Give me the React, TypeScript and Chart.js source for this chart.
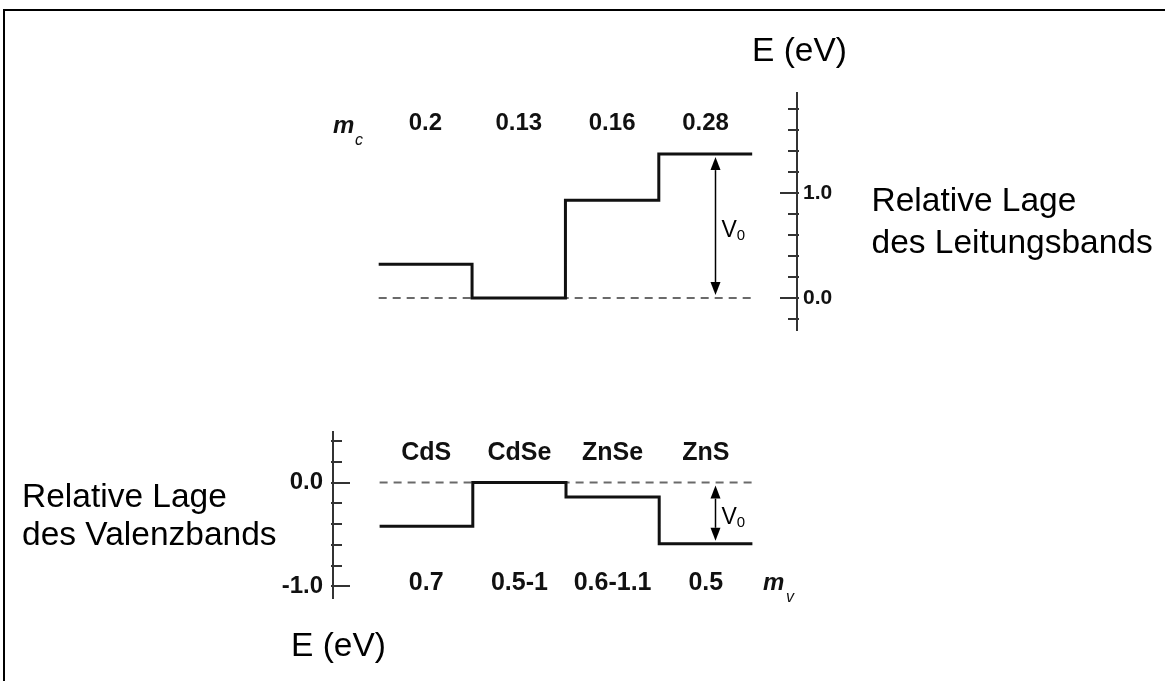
import React, { useEffect, useRef } from "react";
import { Chart, registerables } from "chart.js";

Chart.register(...registerables);

// ---------- data ----------
const MATERIALS = ["CdS", "CdSe", "ZnSe", "ZnS"];
const CB_OFFSET = [0.32, 0, 0.93, 1.37]; // conduction band edge relative to CdSe (eV)
const VB_OFFSET = [-0.42, 0, -0.14, -0.59]; // valence band edge relative to CdSe (eV)
const M_C = ["0.2", "0.13", "0.16", "0.28"];
const M_V = ["0.7", "0.5-1", "0.6-1.1", "0.5"];
const CB_TICKS = [-0.2, 0, 0.2, 0.4, 0.6, 0.8, 1.0, 1.2, 1.4, 1.6, 1.8];
const VB_TICKS = [-1.0, -0.8, -0.6, -0.4, -0.2, 0, 0.2, 0.4];
const MAJOR_TICKS = [-1, 0, 1];
const V0_LABEL = "V";
const V0_SUB = "0";

const FONT = '"Liberation Sans", Arial, Helvetica, sans-serif';

function stepData(levels: number[]) {
  const pts = levels.map((y, i) => ({ x: i, y }));
  pts.push({ x: levels.length, y: levels[levels.length - 1] });
  return pts;
}

function zeroLine(n: number) {
  return [
    { x: 0, y: 0 },
    { x: n, y: 0 },
  ];
}

const decoPlugin = {
  id: "bandDeco",
  afterDraw(chart: any, _args: any, opts: any) {
    const { ctx, chartArea } = chart;
    const xs = chart.scales.x;
    const ys = chart.scales.y;
    ctx.save();
    // tick marks pointing into the plot
    ctx.strokeStyle = "#333";
    ctx.lineWidth = 2;
    const dir = opts.tickDir;
    const axisX = dir < 0 ? ys.left : ys.right;
    for (const t of ys.ticks) {
      const py = Math.round(ys.getPixelForValue(t.value));
      const len = MAJOR_TICKS.includes(t.value) ? opts.majorLen : opts.minorLen;
      ctx.beginPath();
      ctx.moveTo(axisX - dir * 2, py);
      ctx.lineTo(axisX + dir * len, py);
      ctx.stroke();
    }
    // category label rows
    ctx.fillStyle = "#111";
    ctx.textAlign = "center";
    ctx.textBaseline = "middle";
    ctx.font = `bold ${opts.labelSize}px ${FONT}`;
    (opts.rows || []).forEach((row: any) => {
      row.labels.forEach((lab: string, i: number) => {
        const px = xs.getPixelForValue(i + 0.5);
        const py = row.fromTop ? chartArea.top + row.offset : chartArea.bottom - row.offset;
        ctx.fillText(lab, px, py);
      });
    });
    // V0 arrow (heads point toward the two band edges)
    const a = opts.arrow;
    const ax = Math.round(xs.getPixelForValue(a.x)) + 0.5;
    const y1 = ys.getPixelForValue(a.from);
    const y2 = ys.getPixelForValue(a.to);
    const d = y2 < y1 ? -1 : 1;
    const t1 = y1 + d * 3;
    const t2 = y2 - d * 3;
    const hl = 13;
    const hw = 5;
    ctx.strokeStyle = "#000";
    ctx.fillStyle = "#000";
    ctx.lineWidth = 1.5;
    ctx.beginPath();
    ctx.moveTo(ax, t1 + d * hl);
    ctx.lineTo(ax, t2 - d * hl);
    ctx.stroke();
    ctx.beginPath();
    ctx.moveTo(ax, t1);
    ctx.lineTo(ax - hw, t1 + d * hl);
    ctx.lineTo(ax + hw, t1 + d * hl);
    ctx.closePath();
    ctx.fill();
    ctx.beginPath();
    ctx.moveTo(ax, t2);
    ctx.lineTo(ax - hw, t2 - d * hl);
    ctx.lineTo(ax + hw, t2 - d * hl);
    ctx.closePath();
    ctx.fill();
    // V0 label
    const mid = (y1 + y2) / 2;
    ctx.textAlign = "left";
    ctx.textBaseline = "alphabetic";
    ctx.font = `23px ${FONT}`;
    ctx.fillText(V0_LABEL, ax + 6, mid + 11);
    const vw = ctx.measureText(V0_LABEL).width;
    ctx.font = `15px ${FONT}`;
    ctx.fillText(V0_SUB, ax + 6 + vw, mid + 14);
    ctx.restore();
  },
};

function makeConfig(kind: "cb" | "vb"): any {
  const isCb = kind === "cb";
  const levels = isCb ? CB_OFFSET : VB_OFFSET;
  const ticks = isCb ? CB_TICKS : VB_TICKS;
  return {
    type: "line",
    data: {
      datasets: [
        {
          data: stepData(levels),
          stepped: true,
          borderColor: "#111",
          borderWidth: 3,
          pointRadius: 0,
          borderJoinStyle: "miter",
          borderCapStyle: "butt",
          fill: false,
          order: 0,
        },
        {
          data: zeroLine(levels.length),
          borderColor: "#6a6a6a",
          borderWidth: 2,
          borderDash: [8, 6],
          pointRadius: 0,
          fill: false,
          order: 1,
        },
      ],
    },
    plugins: [decoPlugin],
    options: {
      animation: false,
      responsive: false,
      devicePixelRatio: 1,
      layout: {
        padding: isCb
          ? { left: 332, right: 308, top: 93, bottom: 351 }
          : { left: 273, right: 366, top: 432, bottom: 83 },
      },
      plugins: {
        legend: { display: false },
        tooltip: { enabled: false },
        bandDeco: isCb
          ? {
              tickDir: -1,
              majorLen: 17,
              minorLen: 9,
              labelSize: 24,
              rows: [{ labels: M_C, fromTop: true, offset: 30 }],
              arrow: { x: 3.6, from: 0, to: CB_OFFSET[3] },
            }
          : {
              tickDir: 1,
              majorLen: 17,
              minorLen: 9,
              labelSize: 25,
              rows: [
                { labels: MATERIALS, fromTop: true, offset: 21 },
                { labels: M_V, fromTop: false, offset: 15 },
              ],
              arrow: { x: 3.6, from: 0, to: VB_OFFSET[3] },
            },
      },
      scales: {
        x: {
          type: "linear",
          min: -0.5,
          max: isCb ? 4.48 : 4.5,
          display: false,
        },
        y: {
          type: "linear",
          position: isCb ? "right" : "left",
          min: isCb ? -0.305 : -1.113,
          max: isCb ? 1.952 : 0.488,
          grid: { display: false, drawTicks: false },
          border: { display: true, color: "#333", width: 2 },
          afterBuildTicks: (scale: any) => {
            scale.ticks = ticks.map((v) => ({ value: v, major: MAJOR_TICKS.includes(v) }));
          },
          afterFit: (scale: any) => {
            scale.width = 60;
          },
          ticks: {
            autoSkip: false,
            padding: isCb ? 6 : 10,
            color: "#111",
            font: { family: FONT, weight: "bold", size: isCb ? 21 : 24 },
            callback: (value: number) => (MAJOR_TICKS.includes(value) ? value.toFixed(1) : ""),
          },
        },
      },
    },
  };
}

function BandChart({ kind }: { kind: "cb" | "vb" }) {
  const ref = useRef<HTMLCanvasElement | null>(null);
  useEffect(() => {
    if (!ref.current) return;
    const chart = new Chart(ref.current, makeConfig(kind));
    return () => chart.destroy();
  }, [kind]);
  return (
    <canvas
      ref={ref}
      width={1165}
      height={681}
      style={{ position: "absolute", left: 0, top: 0, width: 1165, height: 681 }}
    />
  );
}

const big: React.CSSProperties = {
  position: "absolute",
  fontFamily: FONT,
  fontSize: 33.5,
  lineHeight: "33.5px",
  color: "#000",
  whiteSpace: "nowrap",
};

const mStyle: React.CSSProperties = {
  position: "absolute",
  fontFamily: FONT,
  fontStyle: "italic",
  fontWeight: "bold",
  fontSize: 24,
  lineHeight: "24px",
  color: "#111",
};

const subStyle: React.CSSProperties = {
  position: "absolute",
  fontFamily: FONT,
  fontStyle: "italic",
  fontSize: 16,
  lineHeight: "16px",
  color: "#111",
};

export default function App() {
  return (
    <div
      style={{
        position: "absolute",
        left: 0,
        top: 0,
        width: 1165,
        height: 681,
        overflow: "hidden",
        background: "#fff",
      }}
    >
      <div
        style={{
          position: "absolute",
          left: 3,
          top: 9,
          width: 1300,
          height: 800,
          borderTop: "2px solid #000",
          borderLeft: "2px solid #000",
          boxSizing: "border-box",
        }}
      />
      <BandChart kind="cb" />
      <BandChart kind="vb" />
      <div style={{ ...big, left: 752, top: 32.6 }}>E (eV)</div>
      <div style={{ ...big, left: 871.5, top: 183.3 }}>Relative Lage</div>
      <div style={{ ...big, left: 871.5, top: 224.8 }}>des Leitungsbands</div>
      <div style={{ ...big, left: 22, top: 478.6 }}>Relative Lage</div>
      <div style={{ ...big, left: 22, top: 516.6 }}>des Valenzbands</div>
      <div style={{ ...big, left: 291, top: 628.3 }}>E (eV)</div>
      <div style={{ ...mStyle, left: 333, top: 112.7 }}>m</div>
      <div style={{ ...subStyle, left: 355, top: 131.5 }}>c</div>
      <div style={{ ...mStyle, left: 763, top: 569.7 }}>m</div>
      <div style={{ ...subStyle, left: 786, top: 588.5 }}>v</div>
    </div>
  );
}
